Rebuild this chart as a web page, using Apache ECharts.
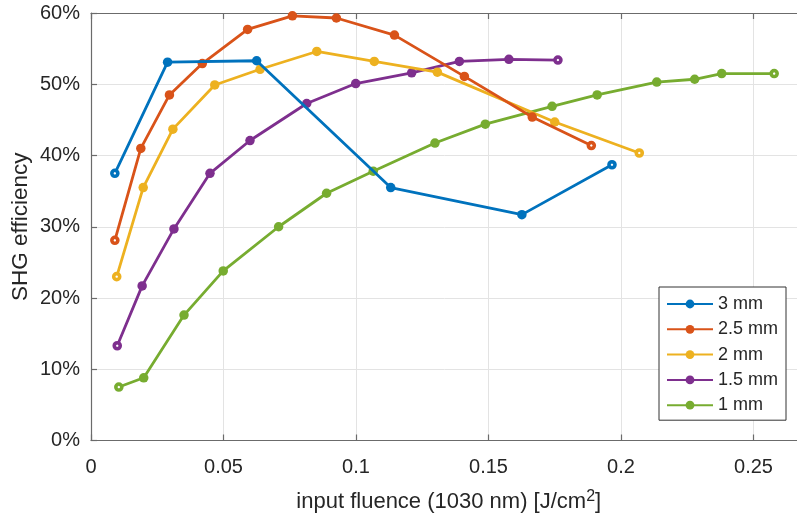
<!DOCTYPE html>
<html>
<head>
<meta charset="utf-8">
<script src="https://cdn.jsdelivr.net/npm/echarts@6/dist/echarts.min.js"></script>
<style>html,body{margin:0;padding:0;background:#fff}#c{width:797px;height:515px}</style>
</head>
<body>
<div id="c"></div>
<script>
const seriesNames = ['3 mm', '2.5 mm', '2 mm', '1.5 mm', '1 mm'];
const seriesColors = ['#0072BD', '#D95319', '#EDB120', '#7E2F8E', '#77AC30'];

const x3mm = [0.009, 0.0289, 0.0625, 0.1131, 0.1626, 0.1966];
const y3mm = [37.5, 53.1, 53.3, 35.5, 31.7, 38.7];

const x25mm = [0.009, 0.0188, 0.0296, 0.042, 0.0591, 0.076, 0.0926, 0.1145, 0.1409, 0.1665, 0.1888];
const y25mm = [28.1, 41.0, 48.5, 52.9, 57.7, 59.6, 59.3, 56.9, 51.1, 45.4, 41.4];

const x2mm = [0.0097, 0.0197, 0.0309, 0.0467, 0.0638, 0.0852, 0.1069, 0.1307, 0.175, 0.2069];
const y2mm = [23.0, 35.5, 43.7, 49.9, 52.1, 54.6, 53.2, 51.7, 44.7, 40.35];

const x15mm = [0.0099, 0.0193, 0.0313, 0.0449, 0.06, 0.0814, 0.0999, 0.121, 0.139, 0.1577, 0.1762];
const y15mm = [13.3, 21.7, 29.7, 37.5, 42.1, 47.3, 50.1, 51.6, 53.2, 53.5, 53.4];

const x1mm = [0.0105, 0.0199, 0.0351, 0.0499, 0.0708, 0.0889, 0.1065, 0.1298, 0.1488, 0.174, 0.191, 0.2135, 0.2278, 0.238, 0.2578];
const y1mm = [7.5, 8.8, 17.6, 23.8, 30.0, 34.7, 37.8, 41.75, 44.4, 46.9, 48.5, 50.3, 50.7, 51.5, 51.5];

const xAxisMax = 0.27;
const seriesX = [x3mm, x25mm, x2mm, x15mm, x1mm];
const seriesY = [y3mm, y25mm, y2mm, y15mm, y1mm];

const FONT = '"Liberation Sans", Arial, Helvetica, sans-serif';
const TXT = '#262626';
const AX = '#6b6b6b';

const series = seriesNames.map((name, i) => {
  const xs = seriesX[i], ys = seriesY[i], c = seriesColors[i];
  const data = xs.map((x, k) => {
    const end = (k === 0 || k === xs.length - 1);
    if (end) {
      return { value: [x, ys[k]], symbolSize: 6, itemStyle: { color: '#ffffff', borderColor: c, borderWidth: 3.6 } };
    }
    return { value: [x, ys[k]] };
  });
  return {
    name, type: 'line', data, xAxisIndex: 0, yAxisIndex: 0,
    symbol: 'circle', symbolSize: 9.5, showAllSymbol: true,
    lineStyle: { color: c, width: 2.8 },
    itemStyle: { color: c, borderColor: c, borderWidth: 0 },
    emphasis: { disabled: true },
    z: 10 - i
  };
});

const chart = echarts.init(document.getElementById('c'), null, { renderer: 'canvas' });
chart.setOption({
  animation: false,
  backgroundColor: '#ffffff',
  textStyle: { fontFamily: FONT },
  grid: { left: 91, top: 13, width: 715.5, height: 427.5, containLabel: false, outerBoundsMode: 'none' },
  legend: {
    show: true,
    orient: 'vertical', left: 659, top: 287,
    data: seriesNames,
    backgroundColor: '#ffffff', borderColor: '#333333', borderWidth: 1, borderRadius: 0,
    padding: [8, 8, 6, 7],
    itemWidth: 46, itemHeight: 11, itemGap: 7.3,
    textStyle: { fontFamily: FONT, fontSize: 18, color: TXT },
    z: 20
  },
  xAxis: [{
    type: 'value', min: 0, max: xAxisMax, interval: 0.05, position: 'bottom',
    name: 'input fluence (1030 nm) [J/cm{sup|2}]', nameLocation: 'middle', nameGap: 48,
    nameMoveOverlap: false,
    nameTextStyle: { fontFamily: FONT, fontSize: 22, color: TXT,
      rich: { sup: { fontFamily: FONT, fontSize: 16, color: TXT, verticalAlign: 'top', padding: [0, 0, 11, 0] } } },
    axisLine: { show: true, onZero: false, lineStyle: { color: AX, width: 1.2 } },
    axisTick: { show: true, inside: true, length: 6, lineStyle: { color: AX, width: 1.2 } },
    axisLabel: { fontFamily: FONT, fontSize: 20, color: TXT, margin: 17, showMaxLabel: false },
    splitLine: { show: true, lineStyle: { color: '#e3e3e3', width: 1 } }
  }, {
    type: 'value', min: 0, max: xAxisMax, interval: 0.05, position: 'top',
    axisLine: { show: true, onZero: false, lineStyle: { color: AX, width: 1.2 } },
    axisTick: { show: true, inside: true, length: 6, lineStyle: { color: AX, width: 1.2 } },
    axisLabel: { show: false },
    splitLine: { show: false }
  }],
  yAxis: [{
    type: 'value', min: 0, max: 60, interval: 10,
    name: 'SHG efficiency', nameLocation: 'middle', nameGap: 59, nameRotate: 90,
    nameMoveOverlap: false,
    nameTextStyle: { fontFamily: FONT, fontSize: 22.5, color: TXT },
    axisLine: { show: true, onZero: false, lineStyle: { color: AX, width: 1.2 } },
    axisTick: { show: true, inside: true, length: 6, lineStyle: { color: AX, width: 1.2 } },
    axisLabel: { fontFamily: FONT, fontSize: 20, color: TXT, margin: 11, formatter: '{value}%' },
    splitLine: { show: true, lineStyle: { color: '#e3e3e3', width: 1 } }
  }],
  series
});
</script>
</body>
</html>
